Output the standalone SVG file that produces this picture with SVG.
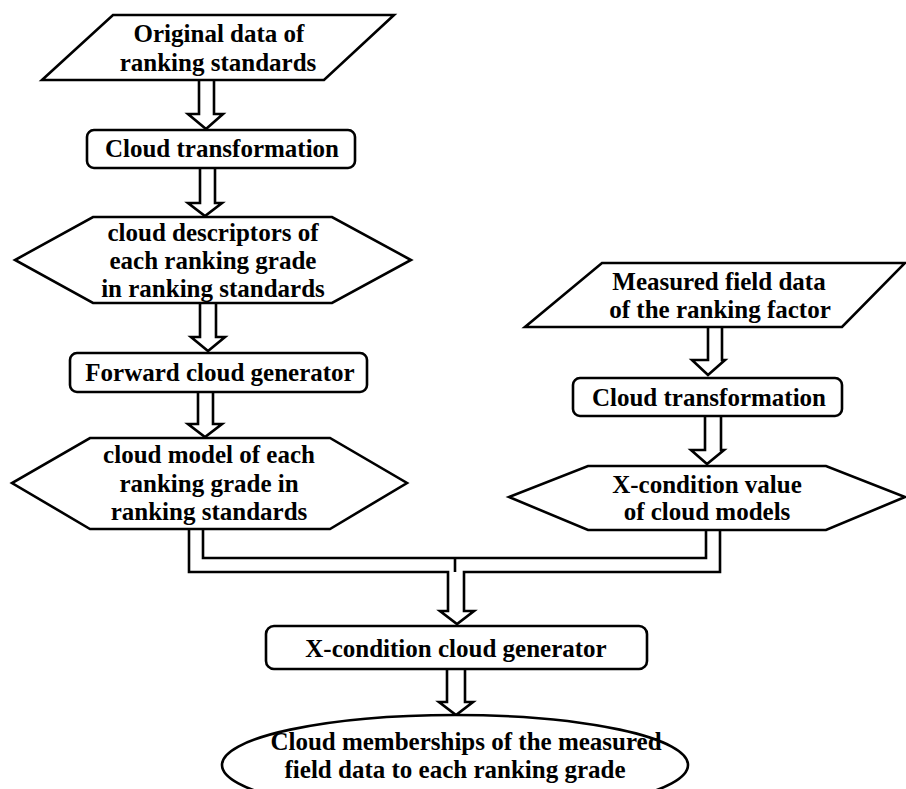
<svg xmlns="http://www.w3.org/2000/svg" width="906" height="789" viewBox="0 0 906 789">
<style>
.s{fill:#fff;stroke:#000;stroke-width:2.6;stroke-linejoin:miter}
.c{fill:none;stroke:#000;stroke-width:2.6}
.a{fill:#fff;stroke:#000;stroke-width:2.6;stroke-linejoin:miter}
text{font-family:"Liberation Serif","Times New Roman",serif;font-weight:bold;font-size:25px;text-anchor:middle;fill:#000}
</style>
<rect x="0" y="0" width="906" height="789" fill="#fff"/>
<g id="connectors">
<path class="a" d="M199,80 V114 H188 L206,129 L223,114 H214 V80"/>
<path class="a" d="M200,168 V203 H188 L205,216 L222,203 H215 V168"/>
<path class="a" d="M200,303 V337 H191 L208,351 L225,337 H216 V303"/>
<path class="a" d="M198,392 V424 H188 L205,437 L222,424 H213 V392"/>
<path class="a" d="M708,327 V360 H692 L708,375 L725,360 H722 V327"/>
<path class="a" d="M705,416 V450 H691 L707,464 L724,450 H721 V416"/>
<path class="c" d="M189,529 V572 H448 V611 H440 L457,624 L474,611 H464 V572 H720 V530"/>
<path class="c" d="M203,529 V558 H706 V530"/>
<path class="c" d="M455,558 V572"/>
<path class="a" d="M447,669 V702 H439 L456,715 L473,702 H465 V669"/>
</g>
<g id="n1">
<polygon class="s" points="113,15 394,15 324,80 42,80"/>
<text x="219" y="42">Original data of</text>
<text x="218" y="71">ranking standards</text>
</g>
<g id="n2">
<rect class="s" x="87" y="130" width="268" height="38" rx="7"/>
<text x="222" y="157">Cloud transformation</text>
</g>
<g id="n3">
<polygon class="s" points="93,217 332,217 411,260 332,303 93,303 15,260"/>
<text x="213" y="241">cloud descriptors of</text>
<text x="213" y="269">each ranking grade</text>
<text x="213" y="297">in ranking standards</text>
</g>
<g id="n4">
<rect class="s" x="70" y="353" width="297" height="39" rx="7"/>
<text x="220" y="381">Forward cloud generator</text>
</g>
<g id="n5">
<polygon class="s" points="90,438 330,438 407,483 330,529 90,529 12,483"/>
<text x="209" y="463">cloud model of each</text>
<text x="209" y="492">ranking grade in</text>
<text x="209" y="520">ranking standards</text>
</g>
<g id="n6">
<polygon class="s" points="602,263 905,263 842,327 525,327"/>
<text x="719" y="290">Measured field data</text>
<text x="720" y="318">of the ranking factor</text>
</g>
<g id="n7">
<rect class="s" x="573" y="378" width="269" height="38" rx="7"/>
<text x="709" y="406">Cloud transformation</text>
</g>
<g id="n8">
<polygon class="s" points="588,466 826,466 905,497 826,530 588,530 509,497"/>
<text x="707" y="493">X-condition value</text>
<text x="707" y="520">of cloud models</text>
</g>
<g id="n9">
<rect class="s" x="266" y="626" width="381" height="43" rx="8"/>
<text x="456" y="657">X-condition cloud generator</text>
</g>
<g id="n10">
<ellipse class="s" cx="455" cy="765" rx="233" ry="50"/>
<text x="466" y="750">Cloud memberships of the measured</text>
<text x="455" y="778">field data to each ranking grade</text>
</g>
</svg>
